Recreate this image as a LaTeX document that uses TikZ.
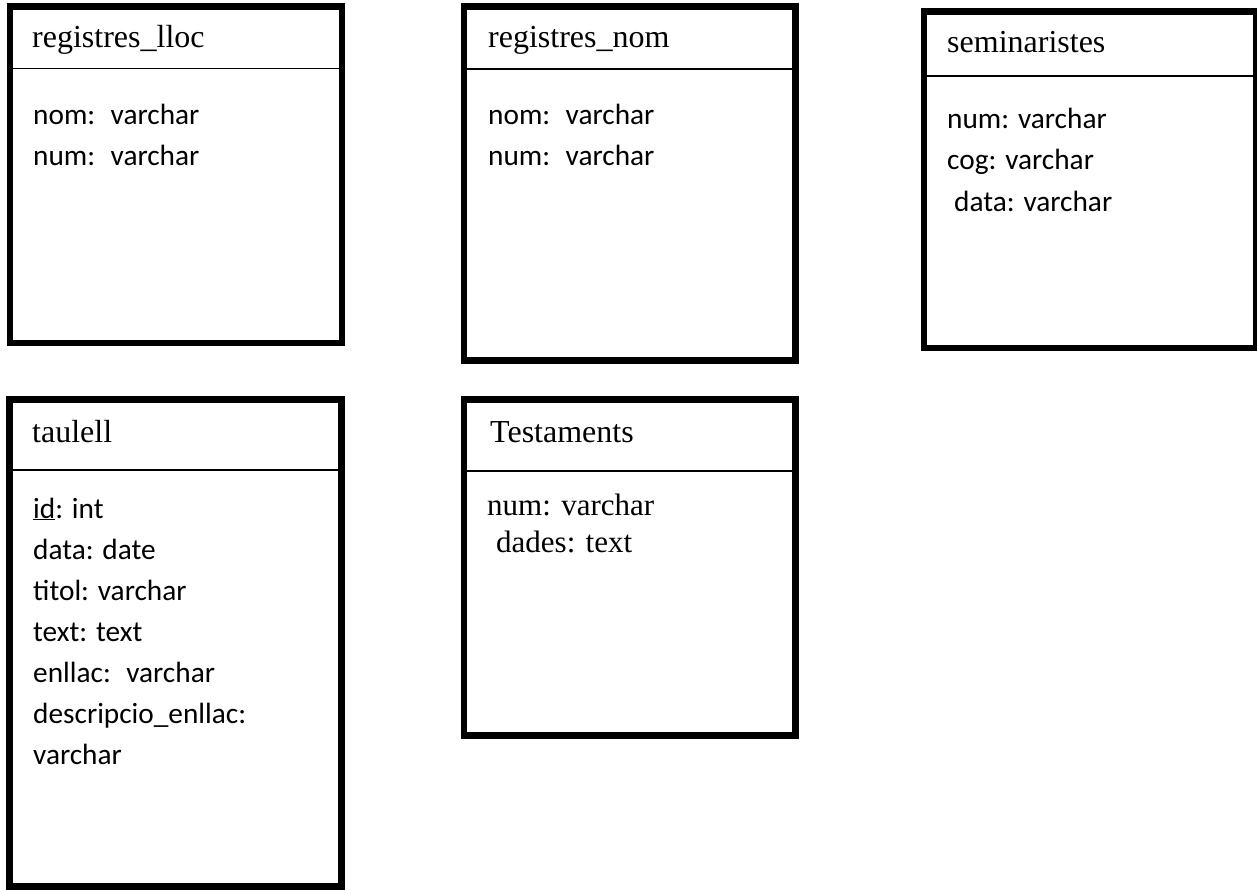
\documentclass[tikz,border=0pt]{standalone}
\usepackage{fontspec}
\setmainfont{Liberation Serif}
\newfontfamily\fieldfont{Carlito}
\usetikzlibrary{calc}

\tikzset{
  tablebox/.style={black, line width=6.5pt},
  tablesep/.style={black, line width=1.5pt},
  tabletitle/.style={anchor=base west, inner sep=0, font=\fontsize{32}{38}\selectfont},
  tablefield/.style={anchor=base west, inner sep=0, font=\fieldfont\fontsize{29.3}{35}\selectfont},
  tablefieldrm/.style={anchor=base west, inner sep=0, font=\fontsize{31}{37}\selectfont},
}

\begin{document}
\begin{tikzpicture}[x=1pt, y=-1pt]
\useasboundingbox (0,0) rectangle (1257,890);
% boxes with their title rule
\foreach \xa/\ya/\xb/\yb/\yd in {10/6.5/342/343/68.5, 464/6.5/795.5/360.5/69, 924/11.5/1256/348/76, 9.5/399.5/341.5/886.5/470, 464/399.5/795.5/735.5/471} {
  \draw[tablebox] (\xa,\ya) rectangle (\xb,\yb);
  \draw[tablesep] (\xa,\yd) --(\xb,\yd);
}
% registres_lloc
\node[tabletitle] (lloc) at (32,48) {registres\_lloc};
\node[tablefield] (lloc-nom) at (33,125) {nom: \ varchar};
\node[tablefield] (lloc-num) at (33,166) {num: \ varchar};
% registres_nom
\node[tabletitle] (nom) at (488,48) {registres\_nom};
\node[tablefield] (nom-nom) at (488,125) {nom: \ varchar};
\node[tablefield] (nom-num) at (488,166) {num: \ varchar};
% seminaristes
\node[tabletitle] (sem) at (947,53) {seminaristes};
\node[tablefield] (sem-num) at (947,129) {num: varchar};
\node[tablefield] (sem-cog) at (947,170) {cog: varchar};
\node[tablefield] (sem-data) at (954,212) {data: varchar};
% taulell
\node[tabletitle] (taul) at (32,442) {taulell};
\foreach \f [count=\i] in {{\underline{id}: int}, {data: date}, {titol: varchar}, {text: text}, {enllac: \ varchar}, {descripcio\_enllac:}, {varchar}} {
  \node[tablefield] (taul-\i) at (33,{477+41*\i}) {\f};
}
% Testaments
\node[tabletitle] (test) at (490,442) {Testaments};
\node[tablefieldrm] (test-num) at (487,515) {num: varchar};
\node[tablefieldrm] (test-dades) at (496,552) {dades: text};
\end{tikzpicture}
\end{document}
